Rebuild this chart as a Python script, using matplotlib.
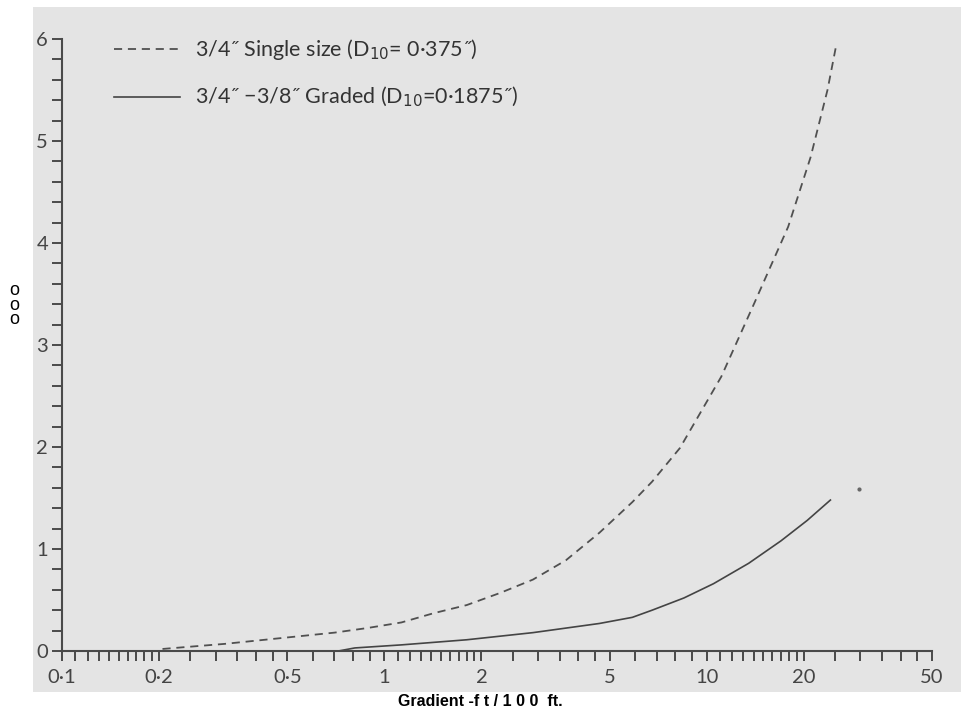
import numpy as np
import matplotlib.pyplot as plt
from matplotlib.patches import Rectangle
from matplotlib.ticker import FixedLocator, FixedFormatter, NullFormatter

# values
single_x = [0.205, 0.32, 0.49, 0.70, 0.885, 1.13, 1.42, 1.80, 2.29, 2.89, 3.66,
            4.65, 5.88, 6.77, 8.26, 11.1, 14.05, 17.9, 21.0, 23.7, 25.3]
single_y = [0.02, 0.07, 0.13, 0.18, 0.225, 0.28, 0.37, 0.45, 0.57, 0.70, 0.89,
            1.16, 1.46, 1.66, 1.99, 2.69, 3.41, 4.16, 4.84, 5.50, 5.96]

graded_x = [0.72, 0.81, 1.13, 1.80, 2.89, 4.65, 5.88, 6.77, 8.5, 10.5, 13.5,
            17.0, 20.5, 24.2]
graded_y = [0.0, 0.03, 0.06, 0.11, 0.18, 0.27, 0.33, 0.40, 0.52, 0.66, 0.86,
            1.08, 1.28, 1.48]

stray_x = [29.6]
stray_y = [1.59]

x_ticks = [0.1, 0.2, 0.5, 1, 2, 5, 10, 20, 50]
x_labels = ["0\u00b71", "0\u00b72", "0\u00b75", "1", "2", "5", "10", "20", "50"]
y_ticks = [0, 1, 2, 3, 4, 5, 6]

label_single = "3/4\u02dd Single size (D$_{10}$= 0\u00b7375\u02dd)"
label_graded = "3/4\u02dd \u22123/8\u02dd Graded (D$_{10}$=0\u00b71875\u02dd)"

ink = "#4a4a4a"

fig = plt.figure(figsize=(9.62, 7.18), dpi=100)
fig.patch.set_facecolor("white")
# the scanned page
fig.patches.append(Rectangle((33 / 962, 1 - 692 / 718), 929 / 962, 685 / 718,
                             transform=fig.transFigure, facecolor="#e4e4e4",
                             edgecolor="none", zorder=-10))

ax = fig.add_axes([62 / 962, 1 - 651 / 718, 870 / 962, 612 / 718])
ax.set_facecolor("none")

ax.plot(single_x, single_y, color="#505050", lw=1.3, linestyle=(0, (4.5, 3.2)))
ax.plot(graded_x, graded_y, color="#444444", lw=1.2)
ax.plot(stray_x, stray_y, "o", color="#666666", ms=2)

ax.set_xscale("log")
ax.set_xlim(0.1, 50)
ax.set_ylim(0, 6)

minor = []
for d in [0.1, 1, 10]:
    minor += list(d * np.arange(1.1, 1.95, 0.1))
    minor += list(d * np.arange(2.5, 4.6, 0.5))
    minor += list(d * np.arange(6, 9.5, 1))
minor = [m for m in minor if m < 50]
ax.xaxis.set_major_locator(FixedLocator(x_ticks))
ax.xaxis.set_major_formatter(FixedFormatter(x_labels))
ax.xaxis.set_minor_locator(FixedLocator(minor))
ax.xaxis.set_minor_formatter(NullFormatter())

ax.set_yticks(y_ticks)
ax.yaxis.set_minor_locator(FixedLocator(np.arange(0, 6.01, 0.2)))

for s in ["top", "right"]:
    ax.spines[s].set_visible(False)
for s in ["left", "bottom"]:
    ax.spines[s].set_color(ink)
    ax.spines[s].set_linewidth(1.5)

ax.tick_params(which="both", color=ink, width=1.4, length=7, direction="out")
ax.tick_params(axis="x", pad=6, labelsize=14.5, labelcolor="#444444")
ax.tick_params(axis="y", pad=3, labelsize=14.5, labelcolor="#444444")
for t in ax.get_xticklabels() + ax.get_yticklabels():
    t.set_family("Lato")

# legend drawn like the original (samples + text)
ax.plot([0.145, 0.232], [5.9, 5.9], color="#505050", lw=1.3,
        linestyle=(0, (4.5, 3.2)), clip_on=False)
ax.plot([0.145, 0.232], [5.43, 5.43], color="#444444", lw=1.2, clip_on=False)
ax.text(0.258, 5.9, label_single, fontsize=15.5, family="Lato", color="#333333",
        va="center")
ax.text(0.258, 5.43, label_graded, fontsize=15.5, family="Lato", color="#333333",
        va="center")

fig.text(480 / 962, 1 - 702 / 718, "Gradient -f t / 1 0 0  ft.", ha="center",
         va="center", fontsize=11.5, fontweight="bold", family="Liberation Sans")
fig.text(14 / 962, 1 - 305 / 718, "o\no\no", ha="center", va="center",
         fontsize=13, family="Liberation Sans", linespacing=0.8)

fig.savefig("out.png", dpi=100)
